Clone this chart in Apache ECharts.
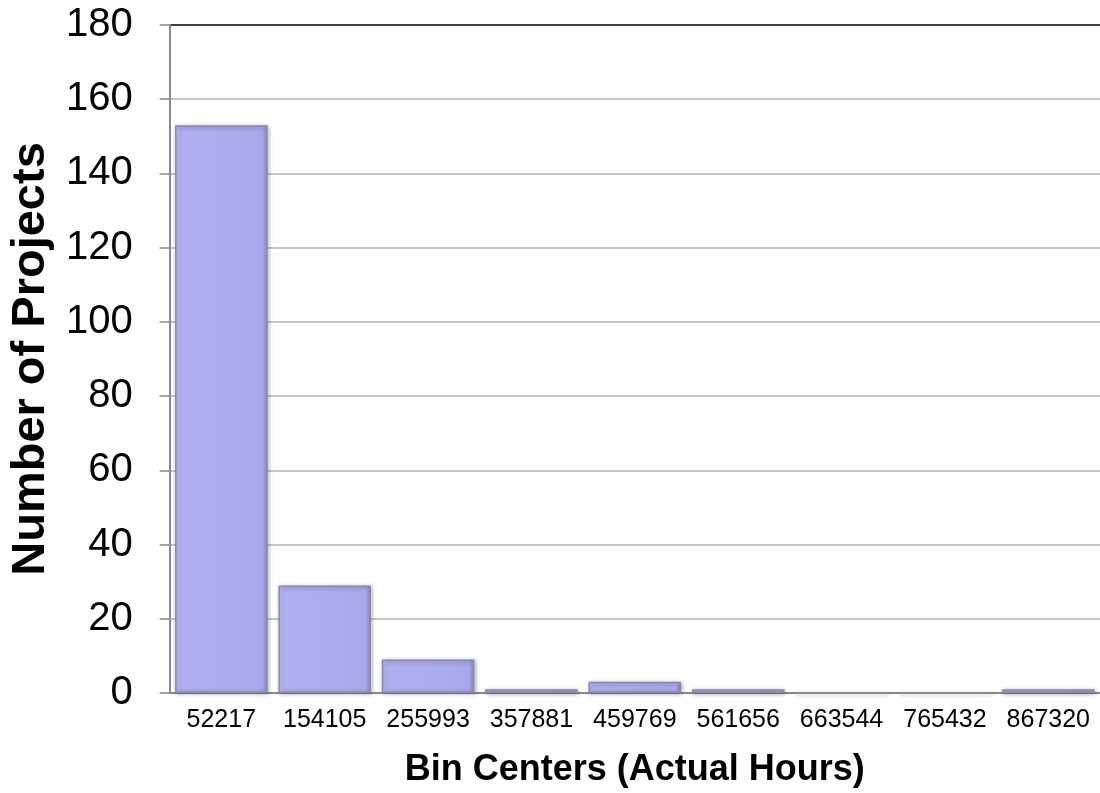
<!DOCTYPE html>
<html>
<head>
<meta charset="utf-8">
<script src="https://cdn.jsdelivr.net/npm/echarts@6/dist/echarts.min.js"></script>
<style>
html,body{margin:0;padding:0;background:#fff;}
#chart{width:1100px;height:793px;}
</style>
</head>
<body>
<div id="chart"></div>
<script>
// Histogram of project sizes by bin center (actual hours)
const binCenters = ['52217', '154105', '255993', '357881', '459769', '561656', '663544', '765432', '867320'];
const projectCounts = [153, 29, 9, 1, 3, 1, 0, 0, 1];
const yTicks = { min: 0, max: 180, interval: 20 };

// gridlines are grey, the top one (180) is drawn black as the plot's upper border
const gridColors = [];
for (let v = yTicks.min; v <= yTicks.max; v += yTicks.interval) {
  gridColors.push(v === yTicks.max ? '#000000' : '#b4b4b4');
}

const chart = echarts.init(document.getElementById('chart'));
chart.setOption({
  animation: false,
  backgroundColor: '#ffffff',
  grid: { left: 164, right: 0, top: 25, bottom: 96, containLabel: false },
  xAxis: {
    type: 'category',
    data: binCenters,
    name: 'Bin Centers (Actual Hours)',
    nameLocation: 'middle',
    nameGap: 59,
    nameTextStyle: { fontFamily: 'Liberation Sans, Arial', fontSize: 36, fontWeight: 'bold', color: '#000' },
    axisLine: { lineStyle: { color: '#8a8a8a', width: 2 } },
    axisTick: { show: false },
    axisLabel: {
      interval: 0,
      hideOverlap: false,
      fontFamily: 'Liberation Sans, Arial',
      fontSize: 25,
      color: '#000',
      margin: 15
    }
  },
  yAxis: {
    type: 'value',
    min: yTicks.min,
    max: yTicks.max,
    interval: yTicks.interval,
    name: 'Number of Projects',
    nameLocation: 'middle',
    nameGap: 104,
    nameTextStyle: { fontFamily: 'Liberation Sans, Arial', fontSize: 47, fontWeight: 'bold', color: '#000' },
    axisLine: { show: true, lineStyle: { color: '#8a8a8a', width: 2 } },
    axisTick: { show: true, length: 10, lineStyle: { color: '#8a8a8a', width: 1.5 } },
    axisLabel: { fontFamily: 'Liberation Sans, Arial', fontSize: 40, color: '#000', margin: 37 },
    splitLine: { lineStyle: { color: gridColors, width: 1.5 } }
  },
  series: [{
    type: 'bar',
    data: projectCounts,
    barCategoryGap: '10.5%',
    itemStyle: {
      color: {
        type: 'linear', x: 0, y: 0, x2: 1, y2: 0,
        colorStops: [
          { offset: 0, color: '#c6c6f6' },
          { offset: 0.06, color: '#aeaef0' },
          { offset: 0.94, color: '#a8a8ea' },
          { offset: 1, color: '#8e8ed0' }
        ]
      },
      borderColor: '#8a8aa8',
      borderWidth: 1.5,
      shadowColor: 'rgba(0,0,0,0.3)',
      shadowBlur: 4,
      shadowOffsetX: 1,
      shadowOffsetY: 1
    }
  }]
});
</script>
</body>
</html>
